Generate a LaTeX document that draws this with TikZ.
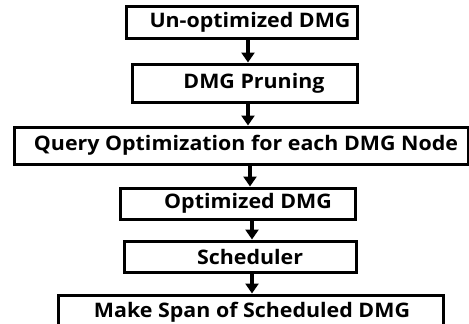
\documentclass[tikz,border=0pt]{standalone}
\usepackage{fontspec}
\setmainfont{Open Sans}[BoldFont={* Bold}]
\usetikzlibrary{arrows.meta}
\newcommand{\wid}[1]{\scalebox{1.07}[1]{#1}}
\tikzset{
  boxnode/.style={draw=black, line width=3pt, fill=white, inner sep=0pt},
  lbl/.style={font=\bfseries\fontsize{20}{24}\selectfont, inner sep=0pt, text=black},
  flow/.style={line width=3.5pt, -{Triangle[width=13pt,length=10pt]}}
}
\begin{document}
\begin{tikzpicture}[x=1pt,y=-1pt]
\useasboundingbox (0,0) rectangle (469,324);
\node[boxnode, minimum width=231pt, minimum height=32pt] (b1) at (241.5,22) {};
\node[lbl] (t1) at (250,22) {\wid{Un-optimized DMG}};
\node[boxnode, minimum width=225pt, minimum height=38pt] (b2) at (245,83) {};
\node[lbl] (t2) at (254,83) {\wid{DMG Pruning}};
\node[boxnode, minimum width=454pt, minimum height=37pt] (b3) at (241,145.5) {};
\node[lbl] (t3) at (246,145.5) {\wid{Query Optimization for each DMG Node}};
\node[boxnode, minimum width=235pt, minimum height=31pt] (b4) at (237.5,203.5) {};
\node[lbl] (t4) at (248,203.5) {\wid{Optimized DMG}};
\node[boxnode, minimum width=232pt, minimum height=31pt] (b5) at (240,256.5) {};
\node[lbl] (t5) at (250,256.5) {\wid{Scheduler}};
\node[boxnode, minimum width=385pt, minimum height=34pt] (b6) at (250.5,312) {};
\node[lbl] (t6) at (252,312) {\wid{Make Span of Scheduled DMG}};
\draw[flow] ([xshift=6.5pt]b1.south) -- ([xshift=3pt]b2.north);
\draw[flow] ([xshift=3pt]b2.south) -- ([xshift=7pt]b3.north);
\draw[flow] ([xshift=9pt]b3.south) -- ([xshift=12.5pt]b4.north);
\draw[flow] ([xshift=14.5pt]b4.south) -- ([xshift=12pt]b5.north);
\draw[flow] ([xshift=12pt]b5.south) -- ([xshift=1.5pt]b6.north);
\end{tikzpicture}
\end{document}
